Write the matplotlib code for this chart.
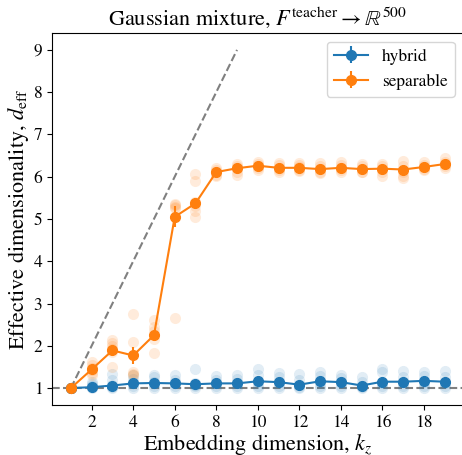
import numpy as np
import matplotlib
matplotlib.use("Agg")
import matplotlib.pyplot as plt

plt.rcParams['font.family'] = 'STIXGeneral'
plt.rcParams['mathtext.fontset'] = 'stix'

k_z = np.arange(1, 20)

# mean effective dimensionality and its error over seeds
hybrid_mean = [1.00, 1.02, 1.06, 1.11, 1.12, 1.11, 1.09, 1.11, 1.11, 1.16,
               1.14, 1.08, 1.16, 1.14, 1.06, 1.15, 1.15, 1.17, 1.15]
hybrid_err = [0.00, 0.02, 0.03, 0.03, 0.03, 0.03, 0.03, 0.03, 0.03, 0.04,
              0.03, 0.03, 0.03, 0.03, 0.03, 0.04, 0.03, 0.03, 0.03]
sep_mean = [1.00, 1.44, 1.89, 1.77, 2.25, 5.05, 5.37, 6.11, 6.20, 6.26,
            6.21, 6.21, 6.18, 6.21, 6.18, 6.19, 6.17, 6.23, 6.30]
sep_err = [0.00, 0.05, 0.08, 0.20, 0.10, 0.25, 0.12, 0.03, 0.03, 0.03,
           0.03, 0.03, 0.03, 0.03, 0.03, 0.03, 0.05, 0.03, 0.03]

# individual runs
hybrid_runs = [
    [1.00, 1.00, 1.00, 1.00, 1.00],
    [1.00, 1.02, 1.05, 1.10, 1.15],
    [1.00, 1.03, 1.08, 1.20, 1.33],
    [1.00, 1.05, 1.12, 1.22, 1.30],
    [1.00, 1.06, 1.15, 1.25, 1.32],
    [1.00, 1.05, 1.12, 1.20, 1.30],
    [1.00, 1.04, 1.08, 1.12, 1.44],
    [1.00, 1.05, 1.12, 1.20, 1.28],
    [1.00, 1.05, 1.12, 1.22, 1.30],
    [1.00, 1.06, 1.15, 1.30, 1.45],
    [1.00, 1.06, 1.15, 1.25, 1.35],
    [1.00, 1.03, 1.08, 1.18, 1.33],
    [1.00, 1.06, 1.15, 1.28, 1.37],
    [1.00, 1.05, 1.14, 1.24, 1.32],
    [1.00, 1.02, 1.06, 1.14, 1.25],
    [1.00, 1.05, 1.12, 1.38, 1.45],
    [1.00, 1.05, 1.14, 1.25, 1.40],
    [1.00, 1.06, 1.15, 1.28, 1.37],
    [1.00, 1.05, 1.12, 1.25, 1.40],
]
sep_runs = [
    [1.00, 1.00, 1.00, 1.00, 1.00],
    [1.62, 1.55, 1.48, 1.42, 1.36, 1.30],
    [2.14, 2.07, 1.99, 1.92, 1.85, 1.50],
    [2.75, 2.10, 1.37, 1.33, 1.30],
    [2.60, 2.45, 2.35, 2.15, 1.82],
    [5.35, 5.32, 5.28, 5.25, 2.65],
    [6.06, 5.90, 5.40, 5.30, 5.20, 5.05],
    [6.20, 6.15, 6.10, 6.05, 6.02],
    [6.30, 6.25, 6.20, 6.12, 6.05],
    [6.35, 6.30, 6.25, 6.20, 6.15],
    [6.32, 6.27, 6.20, 6.15, 6.10],
    [6.32, 6.27, 6.22, 6.17, 6.13],
    [6.32, 6.25, 6.18, 6.12, 6.08],
    [6.35, 6.28, 6.20, 6.15, 6.12],
    [6.30, 6.25, 6.18, 6.12, 6.10],
    [6.30, 6.25, 6.18, 6.10, 6.02],
    [6.38, 6.25, 6.10, 6.02, 5.98],
    [6.35, 6.28, 6.22, 6.18, 6.15],
    [6.45, 6.35, 6.30, 6.25, 6.20],
]

fig = plt.figure(figsize=(4.62, 4.55), dpi=100)
ax = fig.add_axes([0.113, 0.110, 0.89, 0.8175])

for x, runs in zip(k_z, hybrid_runs):
    ax.plot([x] * len(runs), runs, 'o', c='tab:blue', alpha=0.13, ms=8, mec='none')
for x, runs in zip(k_z, sep_runs):
    ax.plot([x] * len(runs), runs, 'o', c='tab:orange', alpha=0.15, ms=8, mec='none')

ax.errorbar(k_z, hybrid_mean, yerr=hybrid_err, fmt='o-', c='tab:blue', ms=7, lw=1.5, label='hybrid')
ax.errorbar(k_z, sep_mean, yerr=sep_err, fmt='o-', c='tab:orange', ms=7, lw=1.5, label='separable')

ax.plot([1, 9], [1, 9], '--', c='gray', lw=1.5, zorder=0)
ax.axhline(1, ls='--', c='gray', lw=1.5, zorder=0)

ax.set_xlim(0.1, 19.9)
ax.set_ylim(0.6, 9.4)
ax.set_xticks(np.arange(2, 20, 2))
ax.set_yticks(np.arange(1, 10))
ax.tick_params(labelsize=12.5)

ax.set_xlabel('Embedding dimension, $k_z$', fontsize=16, labelpad=1)
ax.set_ylabel(r'Effective dimensionality, $d_{\rm eff}$', fontsize=16, labelpad=2)
ax.set_title(r'Gaussian mixture, $F^{\rm teacher} \rightarrow \mathbb{R}^{500}$', fontsize=16)
ax.legend(loc='upper right', fontsize=12.5, fancybox=True)

fig.savefig('out.png', dpi=100)
